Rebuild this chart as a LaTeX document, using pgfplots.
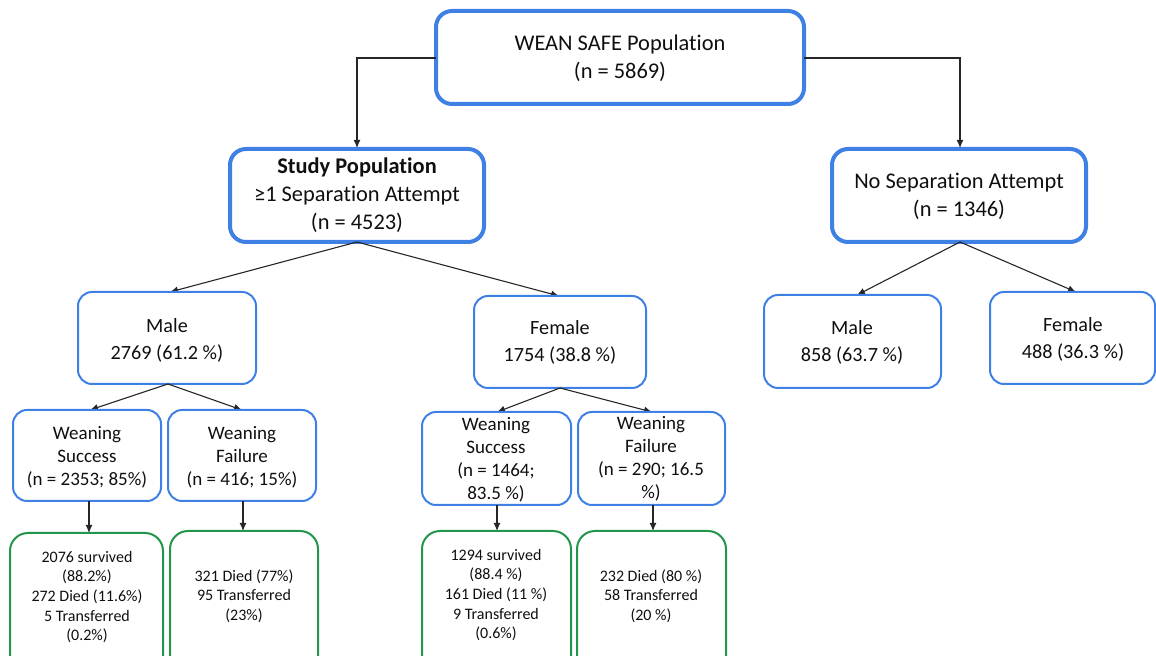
\documentclass[border=0pt]{standalone}
\usepackage{pgfplots}
\pgfplotsset{compat=1.18}
\usepackage{fontspec}
\setmainfont{Carlito}[Ligatures=NoCommon]
\usetikzlibrary{arrows.meta}
\definecolor{bblue}{RGB}{62,128,228}
\definecolor{bgreen}{RGB}{34,150,74}
\definecolor{txt}{RGB}{15,15,15}
\begin{document}
\begin{tikzpicture}[
  thick box/.style={draw=bblue, line width=2pt, rounded corners=8pt},
  thin box/.style={draw=bblue, line width=1pt, rounded corners=7pt},
  green box/.style={draw=bgreen, line width=1pt, rounded corners=9pt},
  arr/.style={draw=black!85, line width=0.55pt, -{Latex[length=4pt,width=3.5pt]}},
  L1/.style={text=txt, align=center, font=\fontsize{11.2}{14}\selectfont},
  L2/.style={text=txt, align=center, font=\fontsize{10.1}{13.5}\selectfont},
  L3/.style={text=txt, align=center, font=\fontsize{9.5}{11.5}\selectfont},
  L4/.style={text=txt, align=center, font=\fontsize{8}{9.8}\selectfont},
]
\begin{axis}[
  width=578pt, height=328pt, scale only axis,
  xmin=0, xmax=1156, ymin=0, ymax=656, y dir=reverse,
  axis lines=none, clip=false,
]
\addplot[draw=none] coordinates {(0,0) (1156,656)};
% top level boxes
\draw[thick box] (axis cs:436,11) rectangle (axis cs:804,104);
\node[L1] at (axis cs:620,58) {WEAN SAFE Population\\(n = 5869)};
\draw[thick box] (axis cs:230,149) rectangle (axis cs:484,242);
\node[L1] at (axis cs:357,195) {\textbf{Study Population}\\≥1 Separation Attempt\\(n = 4523)};
\draw[thick box] (axis cs:832,149) rectangle (axis cs:1086,242);
\node[L1] at (axis cs:959,196) {No Separation Attempt\\(n = 1346)};
% arrows from top
\draw[arr] (axis cs:436,58) -- (axis cs:357,58) -- (axis cs:357,148);
\draw[arr] (axis cs:804,58) -- (axis cs:960,58) -- (axis cs:960,148);
% second level
\draw[arr] (axis cs:357,242) -- (axis cs:170,292);
\draw[arr] (axis cs:357,242) -- (axis cs:559,296);
\draw[arr] (axis cs:960,242) -- (axis cs:857,295);
\draw[arr] (axis cs:960,242) -- (axis cs:1076,292);
\draw[thin box] (axis cs:78,292) rectangle (axis cs:256,384);
\node[L2] at (axis cs:167,340) {Male\\2769 (61.2 \%)};
\draw[thin box] (axis cs:474,296) rectangle (axis cs:646,388);
\node[L2] at (axis cs:560,342) {Female\\1754 (38.8 \%)};
\draw[thin box] (axis cs:764,295) rectangle (axis cs:941,388);
\node[L2] at (axis cs:852,342) {Male\\858 (63.7 \%)};
\draw[thin box] (axis cs:990,292) rectangle (axis cs:1155,384);
\node[L2] at (axis cs:1073,339) {Female\\488 (36.3 \%)};
% third level
\draw[arr] (axis cs:168,384) -- (axis cs:90,410);
\draw[arr] (axis cs:168,384) -- (axis cs:242,410);
\draw[arr] (axis cs:560,388) -- (axis cs:497,412);
\draw[arr] (axis cs:560,388) -- (axis cs:652,412);
\draw[thin box] (axis cs:13,410) rectangle (axis cs:161,501);
\node[L3] at (axis cs:87,457) {Weaning\\Success\\(n = 2353; 85\%)};
\draw[thin box] (axis cs:168,410) rectangle (axis cs:316,501);
\node[L3] at (axis cs:242,457) {Weaning\\Failure\\(n = 416; 15\%)};
\draw[thin box] (axis cs:422,412) rectangle (axis cs:571,505);
\node[L3] at (axis cs:496,460) {Weaning\\Success\\(n = 1464;\\83.5 \%)};
\draw[thin box] (axis cs:578,412) rectangle (axis cs:725,505);
\node[L3] at (axis cs:651,459) {Weaning\\Failure\\(n = 290; 16.5\\\%)};
% outcomes
\draw[arr] (axis cs:89,501) -- (axis cs:89,533);
\draw[arr] (axis cs:243,501) -- (axis cs:243,531);
\draw[arr] (axis cs:497,505) -- (axis cs:497,531);
\draw[arr] (axis cs:653,505) -- (axis cs:653,531);
\draw[green box] (axis cs:10,533) rectangle (axis cs:163,685);
\node[L4] at (axis cs:87,597) {2076 survived\\(88.2\%)\\272 Died (11.6\%)\\5 Transferred\\(0.2\%)};
\draw[green box] (axis cs:170,531) rectangle (axis cs:318,685);
\node[L4] at (axis cs:244,596) {321 Died (77\%)\\95 Transferred\\(23\%)};
\draw[green box] (axis cs:422,531) rectangle (axis cs:571,685);
\node[L4] at (axis cs:496,595) {1294 survived\\(88.4 \%)\\161 Died (11 \%)\\9 Transferred\\(0.6\%)};
\draw[green box] (axis cs:577,531) rectangle (axis cs:726,685);
\node[L4] at (axis cs:651,596) {232 Died (80 \%)\\58 Transferred\\(20 \%)};
\end{axis}
\pgfresetboundingbox
\path (current axis.south west) rectangle (current axis.north east);
\end{tikzpicture}
\end{document}
